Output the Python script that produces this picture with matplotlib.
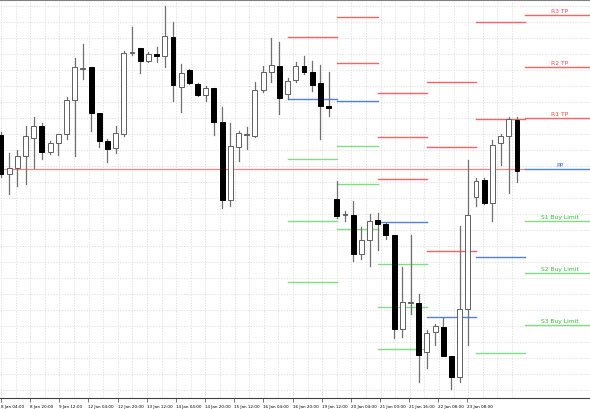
import matplotlib
matplotlib.use("Agg")
import matplotlib.pyplot as plt
from matplotlib.patches import Rectangle

# ============================================================
# Data (price axis in chart units; larger = lower)
# ============================================================
opens = [136, 175, 169, 157, 139, 127, 153, 144, 135, 101, 69, 68, 114, 142, 149, 135,
         53.5, 49, 62, 55, 57, 38, 88, 71, 85, 96, 89, 123, 201, 148, 135, 137, 91, 73,
         67, 95, 81, 67, 73, 84, 107,
         200, 215, 216, 255, 241, 221, 225, 236, 330, 303, 304, 353, 333, 328, 357, 378,
         310, 198, 181, 204, 144, 137, 121]
closes = [175, 169, 157, 137, 127, 153, 144, 135, 101, 68, 69, 114, 142, 150, 134, 54,
          53, 62, 55, 57, 37, 86, 74, 84, 96, 89, 123, 201, 147, 134, 135, 91, 73, 66,
          99, 82, 67, 73, 86, 107, 109,
          217, 215, 255, 241, 222, 225, 236, 330, 303, 303, 356, 334, 327, 357, 378, 310,
          216, 182, 204, 146, 137, 120, 172]
highs = [133, 154, 151, 127, 118, 124, 142, 135, 98, 59, 45, 68, 114, 140, 127, 52,
         28, 49, 53, 48, 7, 23, 65, 70, 84, 87, 89, 108, 124, 132, 128, 83, 67, 39,
         43, 79, 63, 57, 62, 66, 73,
         182, 212, 202, 228, 215, 214, 224, 236, 268, 236, 295, 331, 325, 319, 357, 227,
         161, 179, 179, 141, 135, 118, 118]
lows = [178, 195, 187, 185, 169, 160, 155, 156, 140, 157, 80, 132, 148, 163, 154, 137,
        56, 74, 63, 63, 68, 102, 113, 85, 97, 102, 136, 209, 207, 162, 150, 138, 93, 83,
        115, 100, 83, 75, 92, 140, 117,
        219, 222, 262, 260, 267, 251, 240, 339, 338, 315, 383, 369, 346, 357, 390, 383,
        346, 207, 205, 222, 166, 194, 183]

# pivot segments per day: (start candle, end candle, level)
day_bounds = [(35, 41), (41, 46), (46, 52), (52, 58), (58, 64), (64, 72)]
red_levels = [[38], [18, 64], [94, 138, 180], [83, 148, 252], [23, 120], [16, 68, 119]]
blue_levels = [[100], [102], [223], [318], [258], [170]]
green_levels = [[160, 222, 283], [147, 185, 230], [265, 308, 350], [], [354], [222, 274, 326]]

hline_level = 170
level_names = ["R3 TP", "R2 TP", "R1 TP", "PP", "S1 Buy Limit", "S2 Buy Limit", "S3 Buy Limit"]
level_colors = ["#ff4040"] * 3 + ["#3060ff"] + ["#30c030"] * 3

tick_labels = ["8 Jan 04:00", "8 Jan 20:00", "9 Jan 12:00", "12 Jan 04:00", "12 Jan 20:00",
               "13 Jan 12:00", "14 Jan 04:00", "14 Jan 20:00", "15 Jan 12:00", "16 Jan 04:00",
               "16 Jan 20:00", "19 Jan 12:00", "20 Jan 04:00", "21 Jan 00:00", "21 Jan 16:00",
               "22 Jan 08:00", "23 Jan 08:00"]

# ============================================================
# Plot
# ============================================================
PX = 8.19  # pixels per candle
fig = plt.figure(figsize=(5.9, 4.1), dpi=100)
ax = fig.add_axes([0, 11 / 410, 1, 398 / 410])
ax.set_xlim(-1 / PX, -1 / PX + 590 / PX)
ax.set_ylim(399, 1)

# grid
for i in range(len(tick_labels) * 2 + 2):
    ax.axvline(i * 29.2 / 2 / PX, color="#d8d8d8", lw=0.5, ls=(0, (2, 2)), zorder=0)
for y in range(7, 399, 16):
    ax.axhline(y, color="#d8d8d8", lw=0.5, ls=(0, (2, 2)), zorder=0)

ax.axhline(hline_level, xmax=(64 + 1 / PX) / (590 / PX), color="#ff8080", lw=0.9, zorder=1)

for (a, b), reds, blues, greens in zip(day_bounds, red_levels, blue_levels, green_levels):
    for y in reds:
        ax.plot([a, b], [y, y], color="#ff6060", lw=1, zorder=1)
    for y in blues:
        ax.plot([a, b], [y, y], color="#5080e0", lw=1, zorder=1)
    for y in greens:
        ax.plot([a, b], [y, y], color="#80e080", lw=1, zorder=1)

for i, (o, c, h, l) in enumerate(zip(opens, closes, highs, lows)):
    ax.plot([i, i], [h, l], color="#707070", lw=0.9, zorder=2)
    top, bot = min(o, c), max(o, c)
    bear = c > o
    ax.add_patch(Rectangle((i - 0.3, top), 0.6, max(bot - top, 0.8),
                           facecolor="black" if bear else "white",
                           edgecolor="black" if bear else "#606060", lw=0.7, zorder=3))

# labels on the right
right_levels = red_levels[-1] + blue_levels[-1] + green_levels[-1]
for name, col, y in zip(level_names, level_colors, right_levels):
    ax.text(68.2, y - 2, name, color=col, fontsize=4.3, ha="center", va="bottom")

ax.set_xticks([i * 29.15 / PX for i in range(len(tick_labels))])
ax.set_xticklabels(tick_labels, fontsize=3.0, ha="left")
ax.tick_params(axis="x", length=3, width=0.5, pad=1.5, color="#404040")
ax.set_yticks([])
for s in ["left", "right"]:
    ax.spines[s].set_visible(False)
ax.spines["top"].set_color("#808080")
ax.spines["bottom"].set_color("#404040")

fig.savefig("out.png", dpi=100)
